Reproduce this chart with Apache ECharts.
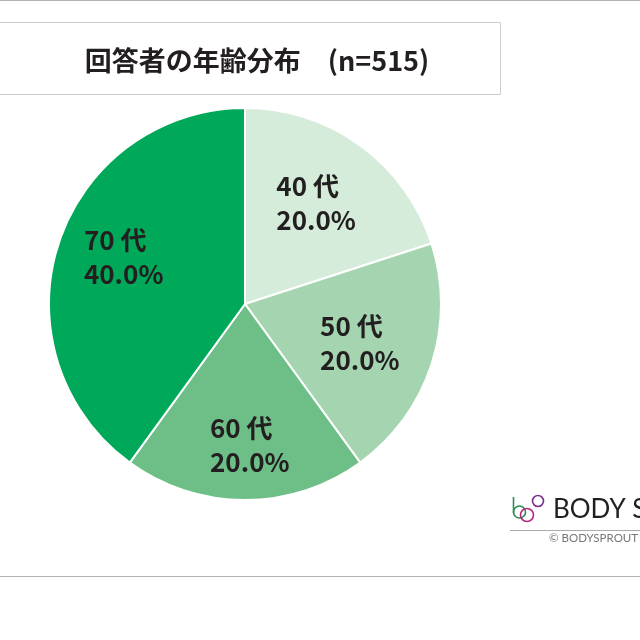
<!DOCTYPE html>
<html>
<head>
<meta charset="utf-8">
<script src="https://cdn.jsdelivr.net/npm/echarts@6/dist/echarts.min.js"></script>
<style>
html,body{margin:0;padding:0;background:#fff;}
#c{width:640px;height:640px;}
</style>
</head>
<body>
<div id="c"></div>
<script>
const titleText = '回答者の年齢分布\u3000(n=515)';
const categories = ['40 代', '50 代', '60 代', '70 代'];
const shares = [20.0, 20.0, 20.0, 40.0];
const sliceColors = ['#d4ecd9', '#a5d5b0', '#6ebf87', '#00a85a'];
const labelOffsets = [[11, -19], [18, 8], [4, 40], [-26, -16]];

const chart = echarts.init(document.getElementById('c'), null, {renderer: 'canvas'});
const font = '"Noto Sans CJK JP", "Noto Sans", sans-serif';

const data = categories.map((c, i) => ({
  name: c,
  value: shares[i],
  itemStyle: {color: sliceColors[i]},
  label: {offset: labelOffsets[i]}
}));

chart.setOption({
  backgroundColor: '#ffffff',
  animation: false,
  graphic: [
    {type: 'line', shape: {x1: 0, y1: 0.5, x2: 640, y2: 0.5}, style: {stroke: '#b4b4b4', lineWidth: 1}},
    {type: 'line', shape: {x1: 0, y1: 576.5, x2: 640, y2: 576.5}, style: {stroke: '#b4b4b4', lineWidth: 1}},
    {type: 'rect', shape: {x: -1, y: 22.5, width: 501.5, height: 72}, style: {fill: '#fff', stroke: '#cccccc', lineWidth: 1}},
    {type: 'text', x: 257, y: 61, style: {text: titleText, font: 'bold 27px ' + font, fill: '#231f20', align: 'center', verticalAlign: 'middle'}},
    // logo
    {type: 'line', shape: {x1: 513.5, y1: 497, x2: 513.5, y2: 513}, style: {stroke: '#2e8b57', lineWidth: 1.6}},
    {type: 'circle', shape: {cx: 519.5, cy: 512, r: 6}, style: {fill: 'none', stroke: '#2e8b57', lineWidth: 1.6}},
    {type: 'circle', shape: {cx: 527, cy: 515, r: 6.5}, style: {fill: 'none', stroke: '#b0287e', lineWidth: 1.6}},
    {type: 'circle', shape: {cx: 538, cy: 501, r: 5.5}, style: {fill: 'none', stroke: '#7a2f8e', lineWidth: 1.6}},
    {type: 'text', x: 553, y: 510, style: {text: 'BODY SPROUT', font: '26px Lato, "Open Sans", sans-serif', fill: '#231f20', verticalAlign: 'middle'}},
    {type: 'line', shape: {x1: 510, y1: 530.5, x2: 640, y2: 530.5}, style: {stroke: '#aaaaaa', lineWidth: 1}},
    {type: 'text', x: 549, y: 538, style: {text: '© BODYSPROUT', font: '11.5px Lato, "Open Sans", sans-serif', fill: '#777777', verticalAlign: 'middle'}}
  ],
  series: [{
    type: 'pie',
    center: [245, 304],
    radius: [0, 196],
    startAngle: 90,
    clockwise: true,
    silent: true,
    itemStyle: {borderColor: '#ffffff', borderWidth: 2},
    label: {
      show: true,
      position: 'inside',
      formatter: (p) => '{a|' + p.name + '}\n{a|' + p.value.toFixed(1) + '%}',
      rich: {
        a: {width: 78, align: 'left', fontSize: 26, fontWeight: 'bold', fontFamily: font, color: '#231f20', lineHeight: 34}
      }
    },
    labelLine: {show: false},
    data: data
  }]
});
</script>
</body>
</html>
